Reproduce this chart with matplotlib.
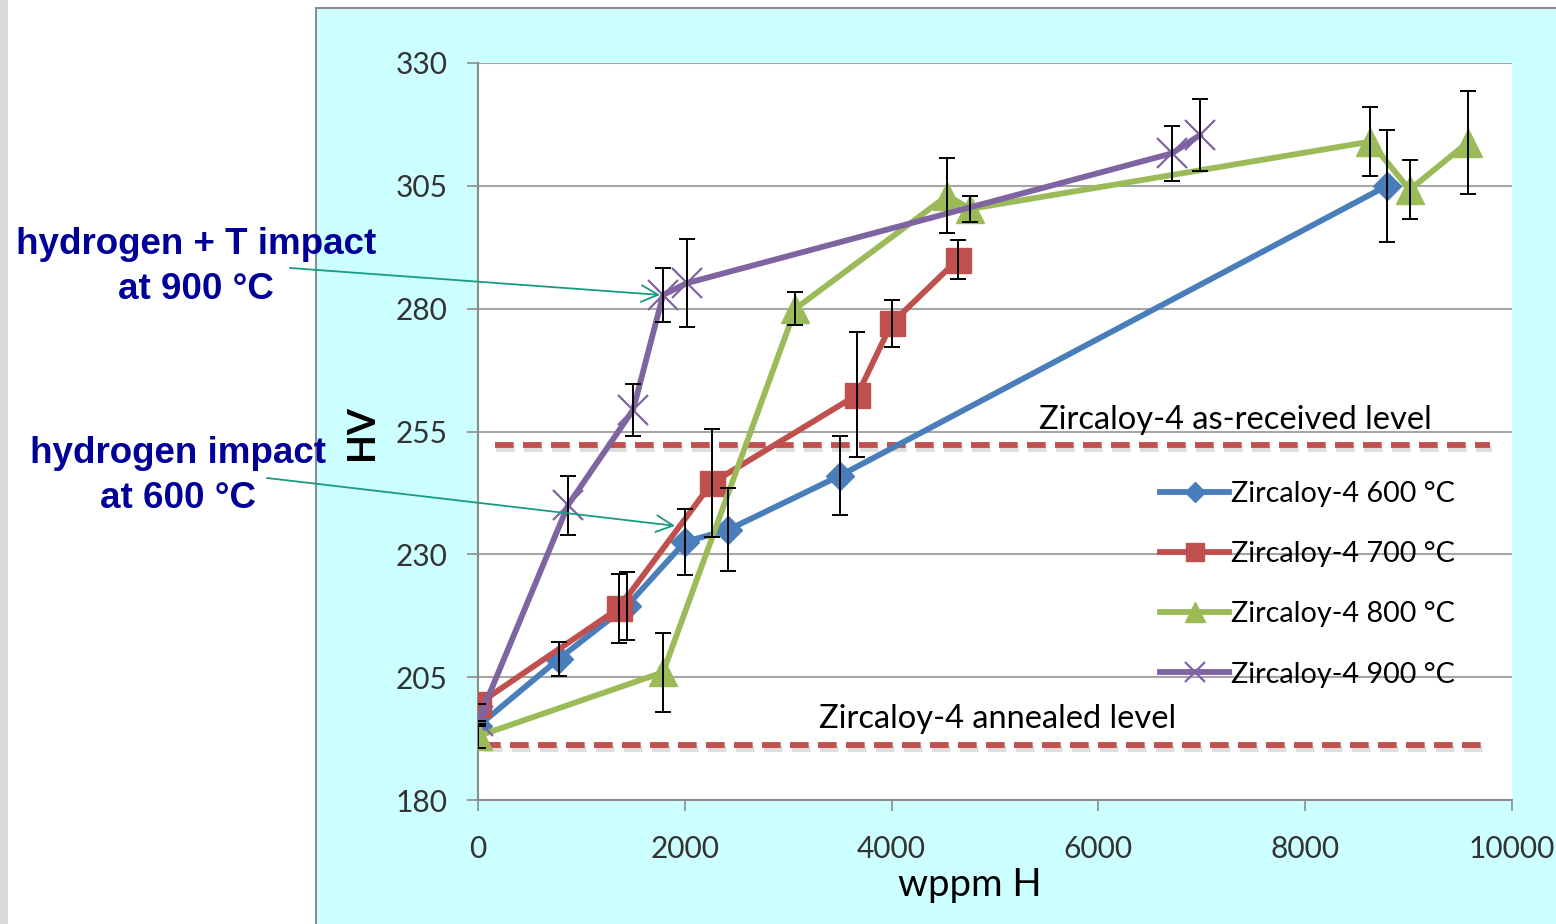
import matplotlib
matplotlib.use("Agg")
import matplotlib.pyplot as plt
import matplotlib.patheffects as pe
from matplotlib.patches import Rectangle

# data (wppm H vs HV)
x600 = [0, 780, 1440, 2000, 2420, 3500, 8790]
y600 = [195, 208.7, 219.5, 232.5, 235, 246, 305]
e600 = [0, 3.5, 7, 6.8, 8.4, 8, 11.4]

x700 = [0, 1360, 2260, 3670, 4000, 4640]
y700 = [199.5, 219, 244.5, 262.5, 277, 290]
e700 = [0, 7, 11, 12.7, 4.8, 4]

x800 = [0, 1790, 3070, 4540, 4760, 8630, 9010, 9570]
y800 = [193, 206, 280, 303, 300.3, 314, 304.2, 313.8]
e800 = [2.5, 8, 3.3, 7.7, 2.7, 7, 6, 10.4]

x900 = [0, 870, 1500, 1790, 2020, 6710, 6980]
y900 = [196, 240, 259.4, 282.8, 285.2, 311.6, 315.3]
e900 = [0, 6, 5.3, 5.5, 9, 5.6, 7.3]

labels = ["Zircaloy-4 600 °C", "Zircaloy-4 700 °C", "Zircaloy-4 800 °C", "Zircaloy-4 900 °C"]
as_received = 252.3
annealed = 191.2
xticks = [0, 2000, 4000, 6000, 8000, 10000]
yticks = [180, 205, 230, 255, 280, 305, 330]

W, H = 1556, 924
fig = plt.figure(figsize=(W / 100, H / 100), dpi=100)
fig.patch.set_facecolor("white")

# background pieces
fig.patches.append(Rectangle((0, 0), 8 / W, 1, transform=fig.transFigure,
                             facecolor="#dadada", edgecolor="none", zorder=0))
fig.patches.append(Rectangle((316 / W, -0.01), 1, 1 - 8 / H + 0.01, transform=fig.transFigure,
                             facecolor="#ccffff", edgecolor="#8c8c8c", lw=1.5, zorder=0))

ax = fig.add_axes([478 / W, 1 - 800 / H, (1512 - 478) / W, (800 - 63) / H])
ax.set_zorder(2)
ax.set_facecolor("white")
ax.set_xlim(0, 10000)
ax.set_ylim(180, 330)

tick_font = dict(family=["Lato", "DejaVu Sans"], size=21.5, color="#333333")
ax.set_xticks(xticks)
ax.set_yticks(yticks)
ax.set_xticklabels([str(t) for t in xticks], **tick_font)
ax.set_yticklabels([str(t) for t in yticks], **tick_font)
ax.tick_params(axis="y", length=8, width=1.2, color="#8c8c8c", pad=14)
ax.tick_params(axis="x", length=8, width=1.2, color="#8c8c8c", pad=17)
for s in ["top", "right"]:
    ax.spines[s].set_visible(False)
for s in ["left", "bottom"]:
    ax.spines[s].set_color("#8c8c8c")
    ax.spines[s].set_linewidth(1.5)
ax.grid(axis="y", color="#a6a6a6", lw=1.5)
ax.set_axisbelow(True)

# reference levels
shadow = [pe.SimpleLineShadow(offset=(1, -3), shadow_color="#555555", alpha=0.2), pe.Normal()]
ax.plot([165, 9790], [as_received] * 2, color="#c0504d", lw=4.2,
        ls=(0, (3.2, 1.6)), dash_capstyle="butt", path_effects=shadow, zorder=2)
ax.plot([40, 9760], [annealed] * 2, color="#c0504d", lw=4.2,
        ls=(0, (3.2, 1.6)), dash_capstyle="butt", path_effects=shadow, zorder=2)
lvl_font = dict(family=["Lato", "DejaVu Sans"], size=23.5, color="black")
ax.text(7321, 257.3, "Zircaloy-4 as-received level", ha="center", va="center", **lvl_font)
ax.text(5029, 196.4, "Zircaloy-4 annealed level", ha="center", va="center", **lvl_font)

series = [
    (x600, y600, e600, "#4a7ebb", "D", 14, dict()),
    (x700, y700, e700, "#c0504d", "s", 18, dict()),
    (x800, y800, e800, "#9bbb59", "^", 20, dict()),
    (x900, y900, e900, "#8064a2", "x", 21, dict(markeredgewidth=1.6)),
]
handles = []
for i, (xs, ys, es, c, m, ms, kw) in enumerate(series):
    h, = ax.plot(xs, ys, color=c, lw=4.2, marker=m, markersize=ms,
                 markerfacecolor=c, markeredgecolor=c, zorder=3 + i, **kw)
    handles.append(h)
    ax.errorbar(xs, ys, yerr=es, fmt="none", ecolor="black", elinewidth=1.4,
                capsize=6, capthick=1.4, zorder=8)

ax.legend(handles, labels, loc="upper left", bbox_to_anchor=(0.660, 0.433),
          frameon=False, prop={"family": ["Lato", "DejaVu Sans"], "size": 20.7},
          handlelength=2.37, handletextpad=0.1, labelspacing=1.19, borderpad=0,
          borderaxespad=0, markerscale=0.7)

# axis titles
fig.text(362 / W, 1 - 433 / H, "HV", rotation=90, ha="center", va="center",
         family=["Lato", "DejaVu Sans"], weight="bold", size=27)
fig.text(970 / W, 1 - 885 / H, "wppm H", ha="center", va="center",
         family=["Lato", "DejaVu Sans"], size=27.5)

# annotations
note_font = dict(family=["Liberation Sans", "DejaVu Sans"], weight="bold", size=26.5,
                 color="#000099", ha="center", va="center", linespacing=1.36)
fig.text(196 / W, 1 - 267 / H, "hydrogen + T impact\nat 900 °C", **note_font, zorder=3)
fig.text(178 / W, 1 - 476 / H, "hydrogen impact\nat 600 °C", **note_font, zorder=3)
arrow = dict(arrowstyle="->", color="#199b80", lw=1.3, mutation_scale=30,
             shrinkA=0, shrinkB=0)
ax.annotate("", xy=(1760, 282.8), xycoords="data",
            xytext=(290, H - 268), textcoords="figure pixels",
            arrowprops=arrow, annotation_clip=False, zorder=10)
ax.annotate("", xy=(1905, 235.8), xycoords="data",
            xytext=(267, H - 478), textcoords="figure pixels",
            arrowprops=arrow, annotation_clip=False, zorder=10)

fig.savefig("out.png", dpi=100)
